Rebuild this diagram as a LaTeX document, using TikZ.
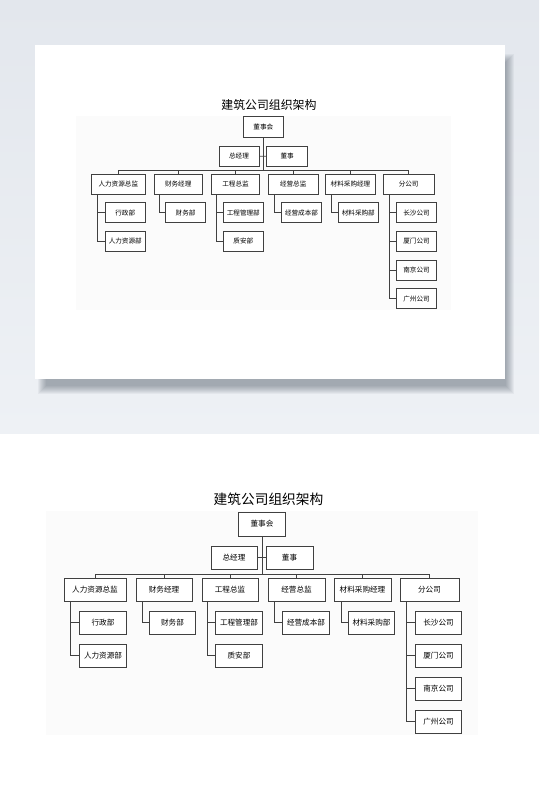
\documentclass[tikz,border=0pt]{standalone}
\usepackage{fontspec}
\setmainfont{Noto Sans CJK SC}
\definecolor{walltop}{HTML}{E3E7ED}
\definecolor{wallfoot}{HTML}{EEF1F5}
\definecolor{shadowtone}{HTML}{3A4654}
\definecolor{paneltint}{HTML}{FBFBFB}
\definecolor{linegray}{HTML}{404040}
\tikzset{
  box/.style={draw=linegray, line width=0.75pt, fill=white, inner sep=0pt,
    minimum width=46.5pt, minimum height=23pt, font=\fontsize{7.6}{9}\selectfont},
  link/.style={draw=linegray, line width=0.75pt},
  orgchart/.pic={
    % faint panel behind the chart
    \fill[paneltint] (-216,-1) rectangle (216,223);
    % title and the top of the chart
    \node[font=\fontsize{13.7}{16}\selectfont] (-title) at (6.5,-13) {建筑公司组织架构};
    \node[box, minimum width=47pt, minimum height=24pt] (-board) at (0,12) {董事会};
    \node[box, minimum width=46pt]  (-manager)  at (-28,45.5)  {总经理};
    \node[box, minimum width=47pt]  (-director) at (27.5,45.5) {董事};
    % heads of the departments
    \node[box, minimum width=62pt]  (-hrhead)   at (-167,78)   {人力资源总监};
    \node[box, minimum width=56pt]  (-finhead)  at (-98,78)    {财务经理};
    \node[box, minimum width=56pt]  (-enghead)  at (-32,78)    {工程总监};
    \node[box, minimum width=57pt]  (-opshead)  at (34.5,78)   {经营总监};
    \node[box, minimum width=57pt]  (-mathead)  at (100.5,78)  {材料采购经理};
    \node[box, minimum width=59pt]  (-branches) at (167.5,78)  {分公司};
    % departments and branch offices
    \node[box] (-admin)     at (-159,110.5)  {行政部};
    \node[box] (-hrdept)    at (-159,143.5)  {人力资源部};
    \node[box] (-findept)   at (-89.5,110.5) {财务部};
    \node[box] (-engdept)   at (-23,110.5)   {工程管理部};
    \node[box] (-safety)    at (-23,143.5)   {质安部};
    \node[box] (-costdept)  at (44,110.5)    {经营成本部};
    \node[box] (-buydept)   at (109.5,110.5) {材料采购部};
    \node[box] (-changsha)  at (176.5,110.5) {长沙公司};
    \node[box] (-xiamen)    at (176.5,143.5) {厦门公司};
    \node[box] (-nanjing)   at (176.5,176.5) {南京公司};
    \node[box] (-guangzhou) at (176.5,209.5) {广州公司};
    % coordinates for the joints of the lines
    \coordinate (-hub)        at (0,62);
    \coordinate (-hrfoot)     at (-191.5,89.5);
    \coordinate (-finfoot)    at (-120,89.5);
    \coordinate (-engfoot)    at (-54.5,89.5);
    \coordinate (-opsfoot)    at (12.3,89.5);
    \coordinate (-matfoot)    at (79,89.5);
    \coordinate (-branchfoot) at (144.7,89.5);
    % drawing the lines
    \draw[link] (-board) -- (-hub);
    \draw[link] (-manager) -- (-director);
    \foreach \head in {hrhead,finhead,enghead,opshead,mathead,branches}
      \draw[link] (-hub) -| (-\head.north);
    \draw[link] (-hrfoot)     |- (-admin);
    \draw[link] (-hrfoot)     |- (-hrdept);
    \draw[link] (-finfoot)    |- (-findept);
    \draw[link] (-engfoot)    |- (-engdept);
    \draw[link] (-engfoot)    |- (-safety);
    \draw[link] (-opsfoot)    |- (-costdept);
    \draw[link] (-matfoot)    |- (-buydept);
    \draw[link] (-branchfoot) |- (-changsha);
    \draw[link] (-branchfoot) |- (-xiamen);
    \draw[link] (-branchfoot) |- (-nanjing);
    \draw[link] (-branchfoot) |- (-guangzhou);
  }
}
\begin{document}
\begin{tikzpicture}[x=1pt, y=-1pt]
  \useasboundingbox (0,0) rectangle (539,812);
  % backgrounds
  \shade[top color=walltop, bottom color=wallfoot] (0,0) rectangle (539,434);
  \fill[white] (0,434) rectangle (539,812);
  % soft shadow of the card, nested rectangles
  \foreach \k in {0,...,8}
    \fill[shadowtone, opacity=0.055] (46-\k,62-\k) rectangle (506+\k,386+\k);
  % the card
  \fill[white] (35,45) rectangle (505,379);
  % the chart, small on the card and large below
  \pic[scale=0.868, transform shape] (upper) at (263.3,116.7) {orgchart};
  \pic (lower) at (262,512) {orgchart};
\end{tikzpicture}
\end{document}
